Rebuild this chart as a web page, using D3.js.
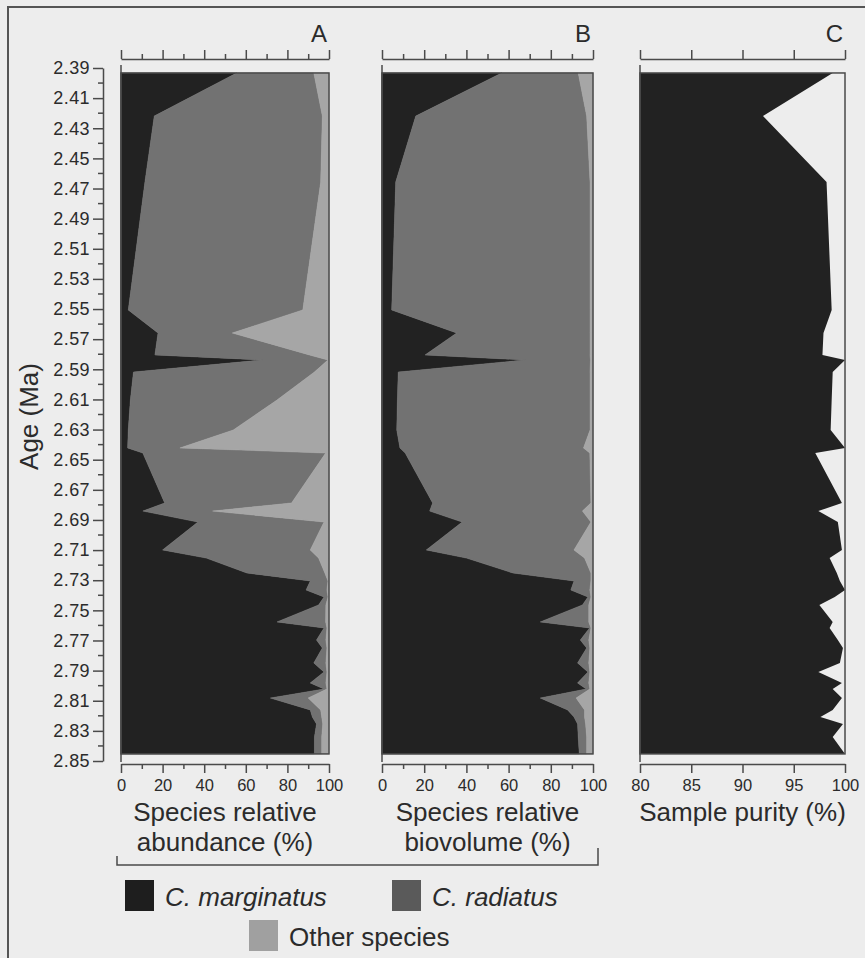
<!DOCTYPE html>
<html>
<head>
<meta charset="utf-8">
<script src="https://cdn.jsdelivr.net/npm/d3@7"></script>
<style>
  body { margin: 0; background: #ededed; }
  svg { display: block; font-family: "Liberation Sans", Arial, sans-serif; }
  .axis path, .axis line { stroke: #4a4a4a; stroke-width: 1.5; }
  .axis text { fill: #2b2b2b; }
</style>
</head>
<body>
<div id="chart"></div>
<script>
// Sample ages (Ma)
const ages = [2.3933, 2.4219, 2.4657, 2.5506, 2.5659, 2.5805, 2.5838, 2.5918, 2.6104, 2.6303,
  2.6422, 2.6456, 2.6787, 2.6841, 2.6914, 2.7099, 2.7153, 2.7252, 2.7305, 2.7365,
  2.7411, 2.7464, 2.7577, 2.7617, 2.7697, 2.7750, 2.7849, 2.7909, 2.7982, 2.8022,
  2.8082, 2.8161, 2.8208, 2.8254, 2.8341, 2.8453];

// A: relative abundance (%)
const marginatusAbundance = [55.6, 16.0, 11.5, 3.5, 17.8, 16.3, 68.0, 6.0, 4.5, 3.5,
  3.2, 10.5, 21.0, 10.5, 37.0, 20.0, 41.0, 60.5, 91.0, 89.0,
  97.6, 95.0, 75.0, 97.6, 94.0, 96.8, 92.7, 97.6, 91.0, 97.6,
  71.8, 91.0, 92.0, 94.0, 93.0, 93.0];
const radiatusAbundance = [37.1, 80.8, 84.5, 83.9, 35.7, 74.3, 31.5, 87.0, 70.5, 50.5,
  25.1, 87.9, 61.0, 33.5, 60.6, 71.0, 54.0, 37.5, 8.5, 10.0,
  1.9, 3.5, 23.4, 1.4, 4.5, 2.2, 5.8, 1.4, 7.5, 1.4,
  18.2, 5.0, 4.5, 3.0, 3.5, 3.5];

// B: relative biovolume (%)
const marginatusBiovolume = [56.7, 16.0, 6.5, 4.6, 35.4, 20.4, 67.8, 7.7, 7.3, 7.0,
  8.5, 11.0, 24.0, 22.6, 38.0, 21.0, 40.0, 62.0, 91.0, 89.5,
  97.6, 95.0, 75.0, 98.4, 94.0, 97.0, 92.7, 97.6, 92.7, 96.8,
  75.0, 88.0, 91.0, 92.7, 93.0, 93.5];
const radiatusBiovolume = [36.3, 81.0, 92.1, 94.0, 63.2, 78.2, 31.0, 90.9, 91.3, 91.6,
  87.0, 87.5, 75.0, 72.4, 61.0, 70.0, 56.0, 37.0, 8.0, 9.0,
  1.4, 3.0, 23.0, 0.6, 4.0, 1.5, 5.3, 0.9, 5.3, 1.7,
  17.0, 8.0, 5.0, 3.8, 4.0, 3.5];

// C: sample purity (%)
const samplePurity = [98.8, 92.0, 98.2, 98.7, 97.9, 97.8, 100, 98.8, 98.7, 98.6,
  100, 97.1, 99.7, 97.4, 99.3, 99.7, 98.5, 99.2, 99.5, 100,
  99.0, 97.5, 98.8, 98.5, 99.3, 99.8, 99.5, 97.4, 99.7, 98.8,
  99.7, 98.8, 97.6, 99.8, 98.8, 100];

const species = ["C. marginatus", "C. radiatus", "Other species"];
const speciesKeys = ["marginatus", "radiatus", "other"];
const ageTickLabels = ["2.39", "2.41", "2.43", "2.45", "2.47", "2.49", "2.51", "2.53",
  "2.55", "2.57", "2.59", "2.61", "2.63", "2.65", "2.67", "2.69", "2.71", "2.73",
  "2.75", "2.77", "2.79", "2.81", "2.83", "2.85"];
const percentTicks = [0, 20, 40, 60, 80, 100];
const purityTicks = [80, 85, 90, 95, 100];

// Build records
const abundance = ages.map((age, i) => ({
  age,
  marginatus: marginatusAbundance[i],
  radiatus: radiatusAbundance[i],
  other: 100 - marginatusAbundance[i] - radiatusAbundance[i],
}));
const biovolume = ages.map((age, i) => ({
  age,
  marginatus: marginatusBiovolume[i],
  radiatus: radiatusBiovolume[i],
  other: 100 - marginatusBiovolume[i] - radiatusBiovolume[i],
}));
const purity = ages.map((age, i) => ({ age, value: samplePurity[i] }));

// Set up dimensions
let width = 865;
let height = 958;
let colors = { marginatus: "#222222", radiatus: "#727272", other: "#a6a6a6" };
let lineColor = "#4a4a4a";
let textColor = "#2b2b2b";

let yScale = d3.scaleLinear().domain([2.39, 2.85]).range([68, 761]);
let yTop = yScale(ages[0]);
let yBottom = yScale(ages[ages.length - 1]);

const svg = d3
  .select("#chart")
  .append("svg")
  .attr("width", width)
  .attr("height", height);

svg.append("rect").attr("width", width).attr("height", height).attr("fill", "#ededed");

// Outer border
svg
  .append("path")
  .attr("d", `M8,${height + 5}V7H${width + 5}`)
  .attr("fill", "none")
  .attr("stroke", "#555")
  .attr("stroke-width", 2);

// Draw y axis
const majorAges = ageTickLabels.map((d) => +d);
const minorAges = majorAges.slice(0, -1).map((d) => d + 0.01);
const yAxisG = svg
  .append("g")
  .attr("class", "axis")
  .attr("transform", "translate(103,0)")
  .call(
    d3.axisLeft(yScale).tickValues(majorAges).tickSize(10).tickSizeOuter(0)
      .tickFormat((d, i) => ageTickLabels[i])
  );
yAxisG.selectAll("text").attr("font-size", 18).attr("letter-spacing", 0.4).attr("x", -13);
yAxisG
  .selectAll(".minor")
  .data(minorAges)
  .join("line")
  .attr("class", "minor")
  .attr("x1", -5)
  .attr("x2", 0)
  .attr("y1", (d) => yScale(d))
  .attr("y2", (d) => yScale(d));

// Draw y axis title
svg
  .append("text")
  .attr("transform", `translate(38,${(yScale(2.39) + yScale(2.85)) / 2 + 2}) rotate(-90)`)
  .attr("text-anchor", "middle")
  .attr("font-size", 26)
  .attr("fill", textColor)
  .text("Age (Ma)");

// Panel definitions
const panels = [
  { letter: "A", left: 121, right: 329, domain: [0, 100], data: abundance, title: ["Species relative", "abundance (%)"] },
  { letter: "B", left: 382, right: 593, domain: [0, 100], data: biovolume, title: ["Species relative", "biovolume (%)"] },
  { letter: "C", left: 640, right: 845, domain: [80, 100], data: purity, title: ["Sample purity (%)"] },
];

const stack = d3.stack().keys(speciesKeys);

panels.forEach((p) => {
  let xScale = d3.scaleLinear().domain(p.domain).range([p.left, p.right]);
  let g = svg.append("g").attr("class", "panel");

  if (p.letter === "C") {
    // Draw purity area
    let area = d3
      .area()
      .y((d) => yScale(d.age))
      .x0(xScale(80))
      .x1((d) => xScale(d.value));
    g.append("path").datum(p.data).attr("fill", colors.marginatus).attr("d", area);
  } else {
    // Draw stacked species areas
    let area = d3
      .area()
      .y((d) => yScale(d.data.age))
      .x0((d) => xScale(d[0]))
      .x1((d) => xScale(d[1]));
    g.selectAll(".layer")
      .data(stack(p.data))
      .join("path")
      .attr("class", "layer")
      .attr("fill", (d) => colors[d.key])
      .attr("stroke", (d) => colors[d.key])
      .attr("stroke-width", 0.5)
      .attr("d", area);
  }

  // Draw panel frame
  g.append("rect")
    .attr("x", p.left)
    .attr("y", yTop)
    .attr("width", p.right - p.left)
    .attr("height", yBottom - yTop)
    .attr("fill", "none")
    .attr("stroke", lineColor)
    .attr("stroke-width", 1.5);
  g.append("line")
    .attr("x1", p.left)
    .attr("x2", p.left)
    .attr("y1", 65)
    .attr("y2", 762)
    .attr("stroke", lineColor)
    .attr("stroke-width", 1.5);

  // Tick values
  let isPurity = p.letter === "C";
  let allTicks = isPurity ? purityTicks : d3.range(0, 101, 10);
  let isMajor = (d) => isPurity || d % 20 === 0;

  // Draw top axis
  const topAxis = g
    .append("g")
    .attr("class", "axis")
    .attr("transform", "translate(0,59)")
    .call(d3.axisTop(xScale).tickValues(allTicks).tickSizeOuter(0).tickFormat(""));
  topAxis.selectAll(".tick line").attr("y2", (d) => (isMajor(d) ? -9 : -5));

  // Draw bottom axis
  const bottomAxis = g
    .append("g")
    .attr("class", "axis")
    .attr("transform", "translate(0,764)")
    .call(
      d3.axisBottom(xScale).tickValues(allTicks).tickSizeOuter(0)
        .tickFormat((d) => (isPurity || percentTicks.includes(d) ? d : ""))
    );
  bottomAxis.selectAll(".tick line").attr("y2", (d) => (isMajor(d) ? 9 : 5));
  bottomAxis.selectAll("text").attr("font-size", 16.5).attr("y", 15);

  // Draw panel letter
  svg
    .append("text")
    .attr("x", p.right - 2)
    .attr("y", 42)
    .attr("text-anchor", "end")
    .attr("font-size", 24)
    .attr("fill", textColor)
    .text(p.letter);

  // Draw axis title
  svg
    .append("text")
    .attr("text-anchor", "middle")
    .attr("font-size", 26)
    .attr("fill", textColor)
    .selectAll("tspan")
    .data(p.title)
    .join("tspan")
    .attr("x", (p.left + p.right) / 2)
    .attr("y", (d, i) => 821 + i * 30)
    .text((d) => d);
});

// Bracket joining A and B titles
svg
  .append("path")
  .attr("d", "M117,856V865H598V848")
  .attr("fill", "none")
  .attr("stroke", lineColor)
  .attr("stroke-width", 1.5);

// Draw legend
const legendItems = [
  { key: "marginatus", label: species[0], x: 125, y: 880, italic: true },
  { key: "radiatus", label: species[1], x: 392, y: 880, italic: true },
  { key: "other", label: species[2], x: 249, y: 920, italic: false },
];
const legendG = svg
  .append("g")
  .attr("class", "legend")
  .selectAll("g")
  .data(legendItems)
  .join("g")
  .attr("transform", (d) => `translate(${d.x},${d.y})`);
legendG
  .append("rect")
  .attr("width", 29)
  .attr("height", 31)
  .attr("fill", (d) => (d.key === "radiatus" ? "#5a5a5a" : d.key === "other" ? "#a0a0a0" : "#1e1e1e"));
legendG
  .append("text")
  .attr("x", 40)
  .attr("y", 26)
  .attr("font-size", 26)
  .attr("font-style", (d) => (d.italic ? "italic" : "normal"))
  .attr("fill", textColor)
  .text((d) => d.label);
</script>
</body>
</html>
